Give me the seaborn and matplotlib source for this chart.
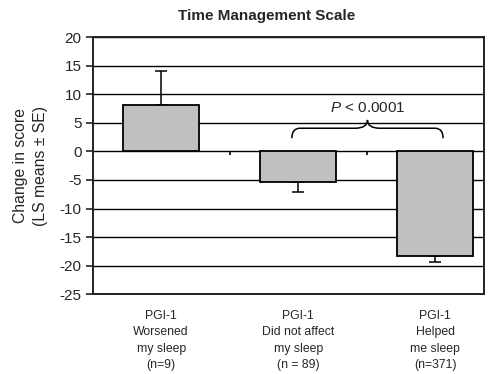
import matplotlib
matplotlib.use("Agg")
import matplotlib.pyplot as plt
import seaborn as sns
import numpy as np
import pandas as pd
from matplotlib.path import Path
from matplotlib.patches import PathPatch

# ---- data ----
categories = ["PGI-1\nWorsened\nmy sleep\n(n=9)",
              "PGI-1\nDid not affect\nmy sleep\n(n = 89)",
              "PGI-1\nHelped\nme sleep\n(n=371)"]
ls_means = [8.1, -5.3, -18.3]
se = [5.9, 1.8, 1.1]
yticks = [-25, -20, -15, -10, -5, 0, 5, 10, 15, 20]
title = "Time Management Scale"
ylabel = "Change in score\n(LS means \u00b1 SE)"
p_text = "$P$ < 0.0001"

sns.set_style("white")
plt.rcParams["font.family"] = ["Liberation Sans", "DejaVu Sans"]
plt.rcParams["mathtext.fontset"] = "custom"
plt.rcParams["mathtext.it"] = "Liberation Sans:italic"
plt.rcParams["mathtext.rm"] = "Liberation Sans"
plt.rcParams["axes.unicode_minus"] = False

df = pd.DataFrame({"cat": categories, "mean": ls_means, "se": se})

fig = plt.figure(figsize=(4.88, 3.74), dpi=100)
ax = fig.add_axes([0.19, 0.213, 0.802, 0.688])

sns.barplot(data=df, x="cat", y="mean", color="#C0C0C0", saturation=1,
            edgecolor="black", linewidth=1.3, width=0.555, ax=ax, zorder=3)

x = np.arange(len(categories))
means = np.array(ls_means)
ses = np.array(se)
lower = np.where(means < 0, ses, 0)
upper = np.where(means >= 0, ses, 0)
ax.errorbar(x, means, yerr=[lower, upper], fmt="none", ecolor="black",
            elinewidth=1.1, capsize=4, capthick=1.1, zorder=2)

ax.set_ylim(yticks[0], yticks[-1])
ax.set_yticks(yticks)
ax.set_xlim(-0.5, len(categories) - 0.5 - 0.144)
ax.yaxis.grid(True, color="black", linewidth=1.0, zorder=0)
ax.set_axisbelow(True)
for s in ax.spines.values():
    s.set_color("#222222")
    s.set_linewidth(1.4)

ax.tick_params(axis="y", direction="out", length=5, width=1.2, color="#222222",
               labelsize=11, pad=3, left=True)
ax.tick_params(axis="x", length=0, labelsize=8.8, pad=11)
ax.set_xticks(x)
ax.set_xticklabels(categories, linespacing=1.5)
ax.set_xlabel("")
ax.set_ylabel(ylabel, fontsize=11.3, linespacing=1.45, labelpad=8)

# category boundary ticks on the zero line
bounds = x[:-1] + 0.5
ax.vlines(bounds, 0, -0.7, colors="black", linewidth=1.2, zorder=4)

# brace between groups 2 and 3
x1, x2 = x[1] - 0.047, x[2] + 0.057
xm = (x1 + x2) / 2
yE, yM, yT = 2.3, 4.05, 5.5
dx, dxt = 0.06, 0.09
verts = [(x1, yE), (x1, yM), (x1 + dx, yM),
         (xm - dxt, yM), (xm, yM), (xm, yT),
         (xm, yM), (xm + dxt, yM),
         (x2 - dx, yM), (x2, yM), (x2, yE)]
codes = [Path.MOVETO, Path.CURVE3, Path.CURVE3,
         Path.LINETO, Path.CURVE3, Path.CURVE3,
         Path.CURVE3, Path.CURVE3,
         Path.LINETO, Path.CURVE3, Path.CURVE3]
ax.add_patch(PathPatch(Path(verts, codes), facecolor="none", edgecolor="black",
                       linewidth=1.1, zorder=5))
ax.text(xm, 7.6, p_text, ha="center", va="center", fontsize=11, zorder=5)

fig.text(0.547, 0.9465, title, ha="center", va="baseline", fontsize=11,
         fontweight="bold")

fig.savefig("out.png", dpi=100)
